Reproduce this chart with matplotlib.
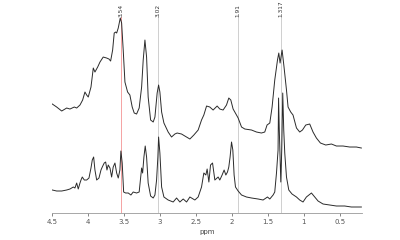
import matplotlib
matplotlib.use("Agg")
import matplotlib.pyplot as plt

# top spectrum (ppm, intensity)
top_ppm = [4.496, 4.435, 4.365, 4.296, 4.25, 4.19, 4.157, 4.111, 4.074, 4.042, 4.018, 3.996,
           3.958, 3.926, 3.903, 3.865, 3.833, 3.788, 3.74, 3.708, 3.685, 3.657, 3.635, 3.615,
           3.601, 3.579, 3.551, 3.532, 3.51, 3.486, 3.449, 3.417, 3.385, 3.357, 3.324, 3.288,
           3.254, 3.232, 3.208, 3.185, 3.163, 3.129, 3.093, 3.069, 3.038, 3.018, 3.0, 2.976,
           2.944, 2.885, 2.838, 2.792, 2.76, 2.699, 2.653, 2.583, 2.528, 2.468, 2.421, 2.389,
           2.351, 2.306, 2.26, 2.204, 2.167, 2.121, 2.074, 2.042, 2.014, 1.982, 1.935, 1.912,
           1.865, 1.819, 1.726, 1.657, 1.588, 1.542, 1.51, 1.472, 1.44, 1.403, 1.365, 1.347,
           1.329, 1.301, 1.274, 1.24, 1.218, 1.181, 1.149, 1.101, 1.056, 1.018, 0.972, 0.917,
           0.871, 0.824, 0.768, 0.694, 0.615, 0.546, 0.454, 0.361, 0.268, 0.199]
top_int = [109, 106, 102, 105, 104, 106, 105, 108, 113, 121, 118, 116,
           126, 145, 141, 146, 151, 156, 155, 154, 152, 163, 180, 181,
           180, 185, 195, 190, 163, 131, 121, 118, 106, 100, 99, 105,
           126, 153, 173, 156, 116, 93, 91, 96, 120, 128, 121, 101,
           90, 81, 76, 79, 80, 79, 77, 74, 78, 83, 93, 98,
           107, 106, 103, 107, 104, 103, 108, 115, 113, 104, 98, 95,
           86, 84, 83, 81, 80, 81, 88, 90, 106, 133, 153, 160,
           150, 163, 146, 123, 106, 101, 98, 85, 81, 83, 88, 89,
           81, 75, 70, 68, 69, 67, 67, 66, 66, 65]

# bottom spectrum (ppm, intensity)
bot_ppm = [4.496, 4.435, 4.365, 4.296, 4.25, 4.204, 4.181, 4.157, 4.135, 4.111, 4.097, 4.079,
           4.051, 4.018, 3.986, 3.958, 3.94, 3.921, 3.903, 3.879, 3.847, 3.819, 3.801, 3.774,
           3.754, 3.736, 3.718, 3.694, 3.671, 3.649, 3.625, 3.601, 3.579, 3.556, 3.542, 3.524,
           3.504, 3.476, 3.44, 3.403, 3.371, 3.324, 3.288, 3.254, 3.24, 3.222, 3.204, 3.185,
           3.163, 3.129, 3.093, 3.069, 3.046, 3.028, 3.018, 3.0, 2.976, 2.944, 2.885, 2.815,
           2.768, 2.722, 2.676, 2.629, 2.583, 2.514, 2.468, 2.421, 2.389, 2.361, 2.343, 2.319,
           2.296, 2.268, 2.236, 2.19, 2.167, 2.135, 2.107, 2.083, 2.06, 2.042, 2.024, 2.004,
           1.986, 1.968, 1.949, 1.912, 1.865, 1.796, 1.726, 1.635, 1.565, 1.504, 1.472, 1.426,
           1.403, 1.379, 1.357, 1.35, 1.34, 1.319, 1.306, 1.292, 1.278, 1.264, 1.24, 1.208,
           1.163, 1.101, 1.056, 1.01, 0.963, 0.893, 0.847, 0.801, 0.732, 0.639, 0.546, 0.431,
           0.338, 0.222, 0.199]
bot_int = [23, 22, 22, 23, 24, 26, 25, 30, 24, 30, 33, 36,
           33, 33, 35, 45, 53, 56, 43, 33, 35, 43, 46, 50,
           51, 43, 48, 45, 36, 46, 50, 40, 35, 43, 62, 50,
           21, 20, 20, 18, 21, 20, 21, 45, 40, 56, 67, 56,
           30, 17, 15, 18, 33, 56, 76, 60, 26, 16, 13, 11,
           15, 11, 14, 11, 16, 13, 16, 26, 40, 38, 44, 31,
           48, 50, 33, 36, 33, 38, 43, 38, 41, 46, 56, 71,
           63, 38, 26, 22, 18, 16, 15, 14, 13, 16, 14, 18,
           21, 40, 63, 115, 83, 31, 63, 120, 83, 60, 36, 23,
           19, 16, 13, 11, 16, 20, 16, 12, 9, 8, 7, 7,
           6, 6, 6]

marker_ppm = [3.54, 3.02, 1.91, 1.317]
marker_labels = ["3.54", "3.02", "1.91", "1.317"]
marker_colors = ["#f5a3a3", "#cfcfcf", "#cfcfcf", "#cfcfcf"]

fig = plt.figure(figsize=(4, 2.4), dpi=100)
ax = fig.add_axes([0.13, 0.1125, 0.775, 0.8165])

for p, lab, c in zip(marker_ppm, marker_labels, marker_colors):
    ax.axvline(p, color=c, lw=0.7, zorder=1)
    ax.text(p, 1.0, lab, transform=ax.get_xaxis_transform(), rotation=90,
            ha="center", va="bottom", fontsize=4.2, color="#333333")

ax.plot(top_ppm, top_int, color="#2b2b2b", lw=0.7, zorder=2)
ax.plot(bot_ppm, bot_int, color="#2b2b2b", lw=0.7, zorder=2)

ax.set_xlim(4.5, 0.19)
ax.set_ylim(0, 196)
ax.set_xticks([4.5, 4, 3.5, 3, 2.5, 2, 1.5, 1, 0.5])
ax.set_xticklabels(["4.5", "4", "3.5", "3", "2.5", "2", "1.5", "1", "0.5"])
ax.tick_params(axis="x", labelsize=5, colors="#555555", length=2, width=0.5, pad=2)
ax.set_yticks([])
for s in ["top", "left", "right"]:
    ax.spines[s].set_visible(False)
ax.spines["bottom"].set_color("#999999")
ax.spines["bottom"].set_linewidth(0.6)
ax.set_xlabel("ppm", fontsize=5, color="#444444", labelpad=3)

fig.savefig("out.png", dpi=100)
